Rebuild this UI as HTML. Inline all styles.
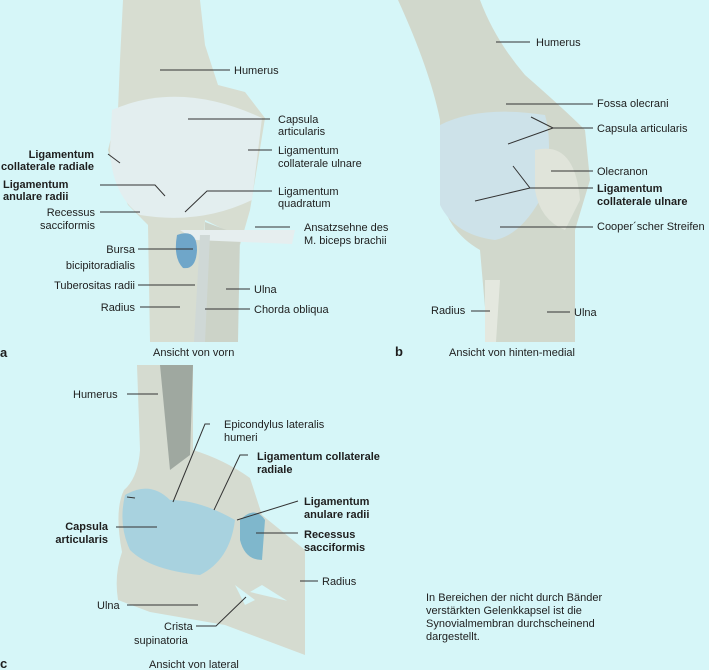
<!DOCTYPE html>
<html><head><meta charset="utf-8"><style>
html,body{margin:0;padding:0;background:#d6f6f8;}
svg{display:block;font-family:"Liberation Sans",sans-serif;font-size:11px;fill:#1e1e1e;}
.b{font-weight:bold;}
line,polyline{stroke:#333;stroke-width:1;fill:none;}
</style></head><body>
<svg width="709" height="670" viewBox="0 0 709 670" xmlns="http://www.w3.org/2000/svg">
<rect width="709" height="670" fill="#d6f6f8"/>
<!-- Panel a -->
<g>
<polygon points="123,0 200,0 205,45 218,85 245,92 265,118 255,180 250,210 240,245 225,230 205,220 200,342 150,342 148,225 128,205 115,175 108,150 118,110 120,60" fill="#d7ddd1"/>
<polygon points="205,222 240,235 238,342 205,342" fill="#ccd3c8"/>
<path d="M112,110 Q180,80 262,118 L252,200 Q200,225 140,215 Q112,195 110,150Z" fill="#e3eeef"/>
<path d="M180,230 L295,230 L292,244 L195,240Z" fill="#e6eeef"/>
<path d="M177,235 Q197,228 197,250 Q196,270 183,268 Q173,258 177,235Z" fill="#6fa6c9"/>
<path d="M200,235 L210,235 L205,342 L194,342Z" fill="#cfd8d6"/>
</g>
<!-- Panel b -->
<g>
<path d="M398,0 L480,0 Q495,40 525,75 Q565,110 585,130 L590,180 L575,230 L575,342 L488,342 L480,250 Q445,230 440,190 Q440,150 440,120 Q430,70 398,0Z" fill="#d1d8cc"/>
<path d="M440,125 Q480,105 545,115 Q555,150 540,200 Q520,235 495,240 Q455,235 440,205Z" fill="#cde2e9"/>
<path d="M535,150 Q575,140 580,200 L565,230 Q540,220 535,190Z" fill="#e0e4da"/>
<path d="M485,280 L500,280 L496,342 L485,342Z" fill="#e4e8df"/>
</g>
<!-- Panel c -->
<g>
<path d="M137,365 L193,365 L193,450 Q225,460 250,478 L262,515 L305,550 L305,612 L262,585 L250,592 L305,605 L305,655 L225,625 L150,612 L118,600 Q114,575 122,552 Q114,510 124,490 Q138,478 140,450Z" fill="#d5dbd0"/>
<path d="M160,365 L193,365 L190,455 L170,470Z" fill="#7b8580" opacity="0.6"/>
<path d="M125,495 Q150,480 170,500 Q200,500 235,520 Q230,560 200,575 Q150,570 130,550 Q118,525 125,495Z" fill="#a8d2df"/>
<path d="M240,520 Q255,505 265,520 L262,560 Q245,560 240,540Z" fill="#7fb7cc"/>
<path d="M235,585 L255,600 L245,605Z" fill="#d6f6f8"/>
</g>
<!-- Leader lines a -->
<line x1="160" y1="70" x2="230" y2="70"/>
<line x1="188" y1="119" x2="270" y2="119"/>
<line x1="248" y1="150" x2="272" y2="150"/>
<line x1="108" y1="154" x2="120" y2="163"/>
<polyline points="100,185 155,185 165,196"/>
<line x1="100" y1="212" x2="140" y2="212"/>
<polyline points="185,212 207,191 272,191"/>
<line x1="255" y1="227" x2="290" y2="227"/>
<line x1="138" y1="249" x2="193" y2="249"/>
<line x1="138" y1="285" x2="195" y2="285"/>
<line x1="226" y1="289" x2="250" y2="289"/>
<line x1="140" y1="307" x2="180" y2="307"/>
<line x1="205" y1="309" x2="250" y2="309"/>
<text x="234" y="74">Humerus</text>
<text x="278" y="123">Capsula</text><text x="278" y="135">articularis</text>
<text x="278" y="154">Ligamentum</text><text x="278" y="167">collaterale ulnare</text>
<text x="278" y="195">Ligamentum</text><text x="278" y="207">quadratum</text>
<text x="304" y="231">Ansatzsehne des</text><text x="304" y="244">M. biceps brachii</text>
<text class="b" x="94" y="158" text-anchor="end">Ligamentum</text>
<text class="b" x="94" y="170" text-anchor="end">collaterale radiale</text>
<text class="b" x="3" y="188">Ligamentum</text><text class="b" x="3" y="200">anulare radii</text>
<text x="95" y="216" text-anchor="end">Recessus</text><text x="95" y="229" text-anchor="end">sacciformis</text>
<text x="135" y="253" text-anchor="end">Bursa</text><text x="135" y="269" text-anchor="end">bicipitoradialis</text>
<text x="135" y="289" text-anchor="end">Tuberositas radii</text>
<text x="135" y="311" text-anchor="end">Radius</text>
<text x="254" y="293">Ulna</text>
<text x="254" y="313">Chorda obliqua</text>
<text class="b" x="0" y="357" font-size="13">a</text>
<text x="153" y="356">Ansicht von vorn</text>
<!-- b -->
<line x1="496" y1="42" x2="530" y2="42"/>
<line x1="506" y1="104" x2="593" y2="104"/>
<polyline points="531,117 553,128 593,128"/>
<line x1="508" y1="144" x2="553" y2="128"/>
<line x1="551" y1="171" x2="593" y2="171"/>
<polyline points="513,166 530,188 593,188"/>
<line x1="475" y1="201" x2="530" y2="188"/>
<line x1="500" y1="227" x2="593" y2="227"/>
<line x1="471" y1="311" x2="490" y2="311"/>
<line x1="547" y1="312" x2="570" y2="312"/>
<text x="536" y="46">Humerus</text>
<text x="597" y="107">Fossa olecrani</text>
<text x="597" y="132">Capsula articularis</text>
<text x="597" y="175">Olecranon</text>
<text class="b" x="597" y="192">Ligamentum</text><text class="b" x="597" y="205">collaterale ulnare</text>
<text x="597" y="230">Cooper´scher Streifen</text>
<text x="431" y="314">Radius</text>
<text x="574" y="316">Ulna</text>
<text class="b" x="395" y="356" font-size="13">b</text>
<text x="449" y="356">Ansicht von hinten-medial</text>
<!-- c -->
<line x1="127" y1="394" x2="158" y2="394"/>
<polyline points="173,502 205,424 210,424"/>
<polyline points="214,510 240,455 248,455"/>
<line x1="237" y1="520" x2="298" y2="501"/>
<line x1="256" y1="533" x2="298" y2="533"/>
<line x1="116" y1="527" x2="157" y2="527"/>
<line x1="127" y1="497" x2="135" y2="498"/>
<line x1="300" y1="581" x2="318" y2="581"/>
<line x1="127" y1="605" x2="198" y2="605"/>
<polyline points="196,626 216,626 246,597"/>
<text x="73" y="398">Humerus</text>
<text x="224" y="428">Epicondylus lateralis</text><text x="224" y="441">humeri</text>
<text class="b" x="257" y="460">Ligamentum collaterale</text><text class="b" x="257" y="473">radiale</text>
<text class="b" x="304" y="505">Ligamentum</text><text class="b" x="304" y="518">anulare radii</text>
<text class="b" x="304" y="538">Recessus</text><text class="b" x="304" y="551">sacciformis</text>
<text class="b" x="108" y="530" text-anchor="end">Capsula</text><text class="b" x="108" y="543" text-anchor="end">articularis</text>
<text x="322" y="585">Radius</text>
<text x="97" y="609">Ulna</text>
<text x="164" y="630">Crista</text><text x="134" y="644">supinatoria</text>
<text class="b" x="0" y="668" font-size="13">c</text>
<text x="149" y="668">Ansicht von lateral</text>
<text x="426" y="601">In Bereichen der nicht durch Bänder</text>
<text x="426" y="614">verstärkten Gelenkkapsel ist die</text>
<text x="426" y="627">Synovialmembran durchscheinend</text>
<text x="426" y="640">dargestellt.</text>
</svg>
</body></html>
